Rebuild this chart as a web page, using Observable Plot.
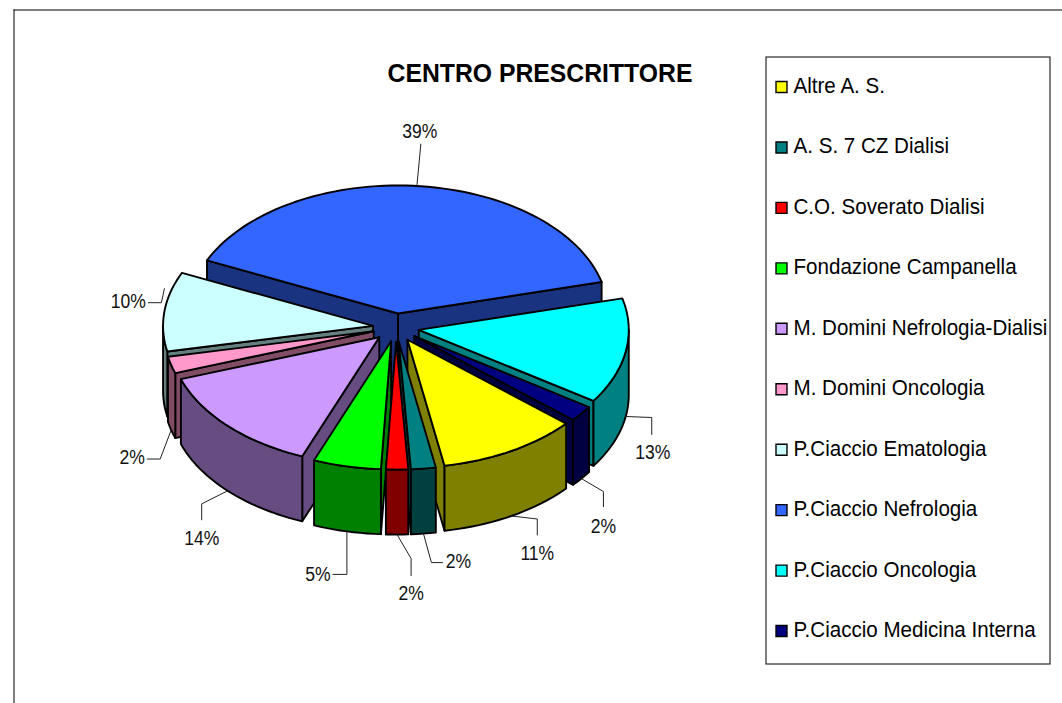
<!DOCTYPE html>
<html><head><meta charset="utf-8">
<script src="https://cdn.jsdelivr.net/npm/d3@7"></script>
<script src="https://cdn.jsdelivr.net/npm/@observablehq/plot@0.6"></script>
<style>html,body{margin:0;padding:0;background:#fff;overflow:hidden}svg{display:block}</style>
</head><body><div id="chart"></div>
<script>
const categories = ["Altre A. S.","A. S. 7 CZ Dialisi","C.O. Soverato Dialisi","Fondazione Campanella","M. Domini Nefrologia-Dialisi","M. Domini Oncologia","P.Ciaccio Ematologia","P.Ciaccio Nefrologia","P.Ciaccio Oncologia","P.Ciaccio Medicina Interna"];
const values = [10.8,1.9,1.7,5.2,13.7,2.1,10,39.2,13.3,2];
const topColors = ["#FFFF00","#008080","#FF0000","#00FF00","#CC99FF","#FF99CC","#CCFFFF","#3366FF","#00FFFF","#000080"];
const wallColors = ["#808000","#004040","#800000","#008000","#664C80","#804C66","#668080","#1A3380","#008080","#000040"];
const title = "CENTRO PRESCRITTORE";

// Projection of the tilted pie onto the page
const pie = {cx:395.5, cy:327, rx:210, ry:128, depth:65, explode:0.11, start:130.9};
const rad = d => d * Math.PI / 180;
const total = d3.sum(values);
const project = (s, a, r, z = 0) => [
  pie.cx + pie.rx * (r * Math.sin(rad(a)) + pie.explode * Math.sin(rad(s.mid))),
  pie.cy + pie.ry * (-r * Math.cos(rad(a)) - pie.explode * Math.cos(rad(s.mid))) + z * pie.depth
];
let acc = pie.start;
const slices = values.map((v, i) => {
  let a0 = acc, a1 = acc + v / total * 360; acc = a1;
  if (a0 >= 360) { a0 -= 360; a1 -= 360; }
  return {i, v, a0, a1, mid: (a0 + a1) / 2};
});
const arc = (a0, a1) => { const n = Math.max(2, Math.ceil((a1 - a0) / 2)); return d3.range(n + 1).map(k => a0 + (a1 - a0) * k / n); };

// Painter's order: far slices first
const drawOrder = [...slices].sort((p, q) => -Math.cos(rad(p.mid)) + Math.cos(rad(q.mid)));
const faces = [];
const addFace = (id, color, pts) => pts.forEach(([x, y]) => faces.push({id, color, x, y}));
for (const s of drawOrder) {
  const wall = wallColors[s.i], top = topColors[s.i];
  if (Math.sin(rad(s.a0)) < 0)
    addFace(s.i + "a", wall, [project(s, 0, 0), project(s, s.a0, 1), project(s, s.a0, 1, 1), project(s, 0, 0, 1)]);
  if (Math.sin(rad(s.a1)) > 0)
    addFace(s.i + "b", wall, [project(s, 0, 0), project(s, s.a1, 1), project(s, s.a1, 1, 1), project(s, 0, 0, 1)]);
  const v0 = Math.max(s.a0, 90), v1 = Math.min(s.a1, 270);
  if (v1 > v0) {
    const as = arc(v0, v1);
    addFace(s.i + "c", wall, [...as.map(a => project(s, a, 1)), ...as.slice().reverse().map(a => project(s, a, 1, 1))]);
  }
  addFace(s.i + "t", top, [project(s, 0, 0), ...arc(s.a0, s.a1).map(a => project(s, a, 1))]);
}

// Leader lines: [share of wall depth at the anchor, elbow offset, label-end offset, text offset]
const leaderLayout = [
  [1.0, [26,3],[26,19],[26,38]],     // 11%
  [1.0, [8,29],[19,29],[35,28]],     // 2% teal
  [1.0, [14,24],[14,41],[14,59]],    // 2% red
  [1.0, [0,43],[-14,43],[-29,43]],   // 5%
  [1.0, [-26,13],[-26,29],[-26,48]], // 14%
  [1.0, [-11,29],[-24,29],[-39,28]], // 2% pink
  [-0.35,[-3,14],[-16,14],[-36,13]], // 10%
  [0,   [4,-42],[4,-42],[3,-54]],    // 39%
  [1.0, [26,1],[26,18],[27,36]],     // 13%
  [1.0, [22,13],[22,28],[22,48]]     // 2% navy
];
const leaders = [], labels = [];
slices.forEach((s, i) => {
  const [d, e, f, t] = leaderLayout[i];
  const [ax, ay] = project(s, s.mid, 1, d);
  [[ax, ay], [ax + e[0], ay + e[1]], [ax + f[0], ay + f[1]]].forEach(([x, y]) => leaders.push({id: i, x, y}));
  labels.push({x: ax + t[0], y: ay + t[1], text: Math.round(s.v) + "%"});
});

const legendRows = categories.map((name, i) => ({name, color: topColors[i], row: i}));
const legendY = r => 85.5 + r * 60.45;
const font = "Liberation Sans, Arial, sans-serif";

const chart = Plot.plot({
  width: 1062, height: 703, margin: 0,
  x: {domain: [0, 1062], range: [0, 1062], axis: null},
  y: {domain: [0, 703], range: [0, 703], axis: null},
  color: {type: "identity"},
  marks: [
    Plot.ruleX([13.5], {y1: 9.5, y2: 703, stroke: "#000", strokeWidth: 1}),
    Plot.ruleY([9.5], {x1: 13.5, x2: 1062, stroke: "#000", strokeWidth: 1}),
    Plot.line(faces, {x: "x", y: "y", z: "id", fill: "color", stroke: "#000", strokeWidth: 1.9, curve: "linear-closed", strokeLinejoin: "round"}),
    Plot.line(leaders, {x: "x", y: "y", z: "id", stroke: "#222", strokeWidth: 1, curve: "linear"}),
    Plot.text(labels, {x: "x", y: "y", text: "text", fontFamily: font, fontSize: 19.5, fill: "#111", className: "lab"}),
    Plot.text([title], {x: () => 539.5, y: () => 73, text: d => d, fontFamily: font, fontSize: 25, fontWeight: "bold", fill: "#000", className: "ttl"}),
    Plot.rect([0], {x1: () => 766, x2: () => 1050, y1: () => 57, y2: () => 664, fill: "none", stroke: "#000", strokeWidth: 1}),
    Plot.dot(legendRows, {x: () => 781, y: d => legendY(d.row) + 1, symbol: "square", r: 6.2, fill: "color", stroke: "#000", strokeWidth: 1.4}),
    Plot.text(legendRows, {x: () => 793, y: d => legendY(d.row), text: "name", textAnchor: "start", fontFamily: font, fontSize: 21.8, fill: "#000", className: "leg"})
  ]
});
document.getElementById("chart").appendChild(chart);

// The reference's type is slightly condensed
const condense = (cls, k) => chart.querySelectorAll(`.${cls} text`).forEach(t => {
  t.setAttribute("textLength", (t.getComputedTextLength() * k).toFixed(1));
  t.setAttribute("lengthAdjust", "spacingAndGlyphs");
});
condense("lab", 0.90); condense("ttl", 0.99); condense("leg", 0.944);
</script></body></html>
